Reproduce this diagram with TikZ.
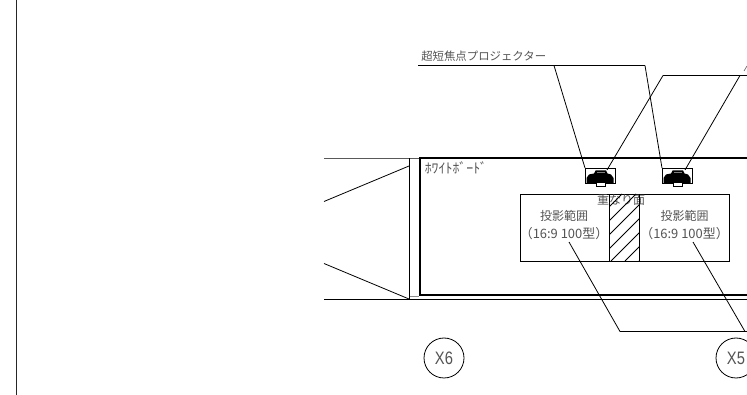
\documentclass[tikz,border=0pt]{standalone}
\usepackage{fontspec}
\setmainfont{Noto Sans CJK JP}
\newfontfamily\latinf[FakeStretch=0.82]{Liberation Sans}
\definecolor{txt}{gray}{0.33}
\tikzset{
 px/.style={x=0.75pt,y=-0.75pt},
 thin line/.style={draw=black,line width=0.6pt},
 wall/.style={draw=black!65,line width=0.8pt},
 board/.style={draw=black,line width=1.5pt},
 label/.style={text=txt,inner sep=0pt,font=\fontsize{8.55pt}{10pt}\selectfont},
 range label/.style={label,font=\fontsize{9pt}{10pt}\selectfont},
 size label/.style={label,font=\fontsize{9.7pt}{10pt}\selectfont},
 grid circle/.style={circle,draw=black,line width=0.6pt,minimum size=30pt,inner sep=0pt,text=txt,font=\latinf\fontsize{13.5pt}{15pt}\selectfont},
 proj box/.style={draw=black,line width=0.6pt,fill=white},
}
\newcommand{\projector}[2]{%
 \begin{scope}[shift={(#1,168)}]
  \coordinate (#2) at (0,0);
  \draw[proj box] (0,0) rectangle (30,15);
  \fill[black] (1.5,15) -- (1.5,10) -- (4,6.5) -- (9,5.5) -- (10.5,2.5) -- (21,2.5) -- (22.5,5.5) -- (26,6.5) -- (28.5,10) -- (28.5,15) -- cycle;
  \draw[proj box] (11,15) -- (11,18) -- (20,18) -- (20,15);
  \draw[draw=black!50,line width=0.4pt] (12,4.5) -- (20,4.5);
 \end{scope}}
\begin{document}
\begin{tikzpicture}[px]
\useasboundingbox (0,0) rectangle (747,395);
\fill[white] (0,0) rectangle (747,395);
% sheet border
\coordinate (b1) at (16.5,0); \coordinate (b2) at (16.5,395);
\draw[draw=black!85,line width=0.8pt] (b1) -- (b2);
% walls
\coordinate (w1) at (324,158.5); \coordinate (w2) at (419,158.5);
\draw[wall] (w1) -- (w2);
\coordinate (w3) at (324,299); \coordinate (w4) at (747,299);
\draw[thin line] (w3) -- (w4);
\coordinate (v1) at (409.5,158.5); \coordinate (v2) at (409.5,299);
\draw[thin line] (v1) -- (v2);
\coordinate (d1) at (324,201.5); \coordinate (d2) at (409,166);
\draw[thin line] (d1) -- (d2);
\coordinate (d3) at (324,263.5); \coordinate (d4) at (409,299);
\draw[thin line] (d3) -- (d4);
\draw[draw=black!45,line width=0.6pt] (409.5,296) -- (419,296);
% whiteboard
\draw[board] (747,158) -- (419.5,158) -- (419.5,295) -- (747,295);
\node[label,anchor=west,font=\fontsize{10.4pt}{11pt}\selectfont] (wb) at (424.5,168) {ﾎﾜｲﾄﾎﾞｰﾄﾞ};
% projection
\draw[thin line] (520,194) rectangle (729,261);
\node[range label] (ov) at (621,200) {重なり面};
\begin{scope}
 \clip (609,194) rectangle (639,261);
 \foreach \k in {0,...,7} {
  \draw[draw=black,line width=0.55pt] ({541+14*\k},261) -- ++(67,-67);
 }
\end{scope}
\draw[thin line] (609,194) -- (609,261) (639,194) -- (639,261);
\node[range label] (a1) at (564,215.5) {投影範囲};
\node[size label] (a2) at (564,233.5) {（16:9 100型）};
\node[range label] (b1t) at (684.5,215.5) {投影範囲};
\node[size label] (b2t) at (684.5,233.5) {（16:9 100型）};
% projectors
\projector{585}{p1}
\projector{662}{p2}
% leader: projector
\node[label,anchor=west] (pl) at (421,56.5) {超短焦点プロジェクター};
\coordinate (l0) at (418,65.5); \coordinate (l1) at (554,65.5); \coordinate (l2) at (645,65.5);
\draw[thin line] (l0) -- (l2);
\draw[thin line] (l1) -- (p1);
\draw[thin line] (l2) -- (p2);
% leader: right
\coordinate (r1) at (663,75.5); \coordinate (r2) at (740,75.5); \coordinate (r3) at (747,75.5);
\draw[thin line] (r1) -- (r3);
\coordinate (t1) at (607,170); \coordinate (t2) at (685,170);
\draw[thin line] (r1) -- (t1);
\draw[thin line] (r2) -- (t2);
\draw[draw=black!60,line width=0.5pt] (744,71) -- (747,66);
% leader: range
\coordinate (q1) at (569,242); \coordinate (q2) at (620,331.5);
\coordinate (q3) at (693,242); \coordinate (q4) at (745,331.5); \coordinate (q5) at (747,331.5);
\draw[thin line] (q1) -- (q2) -- (q5);
\draw[thin line] (q3) -- (q4);
% grid
\node[grid circle] (x6) at (444,358) {X6};
\node[grid circle] (x5) at (736,358) {X5};
\end{tikzpicture}
\end{document}
